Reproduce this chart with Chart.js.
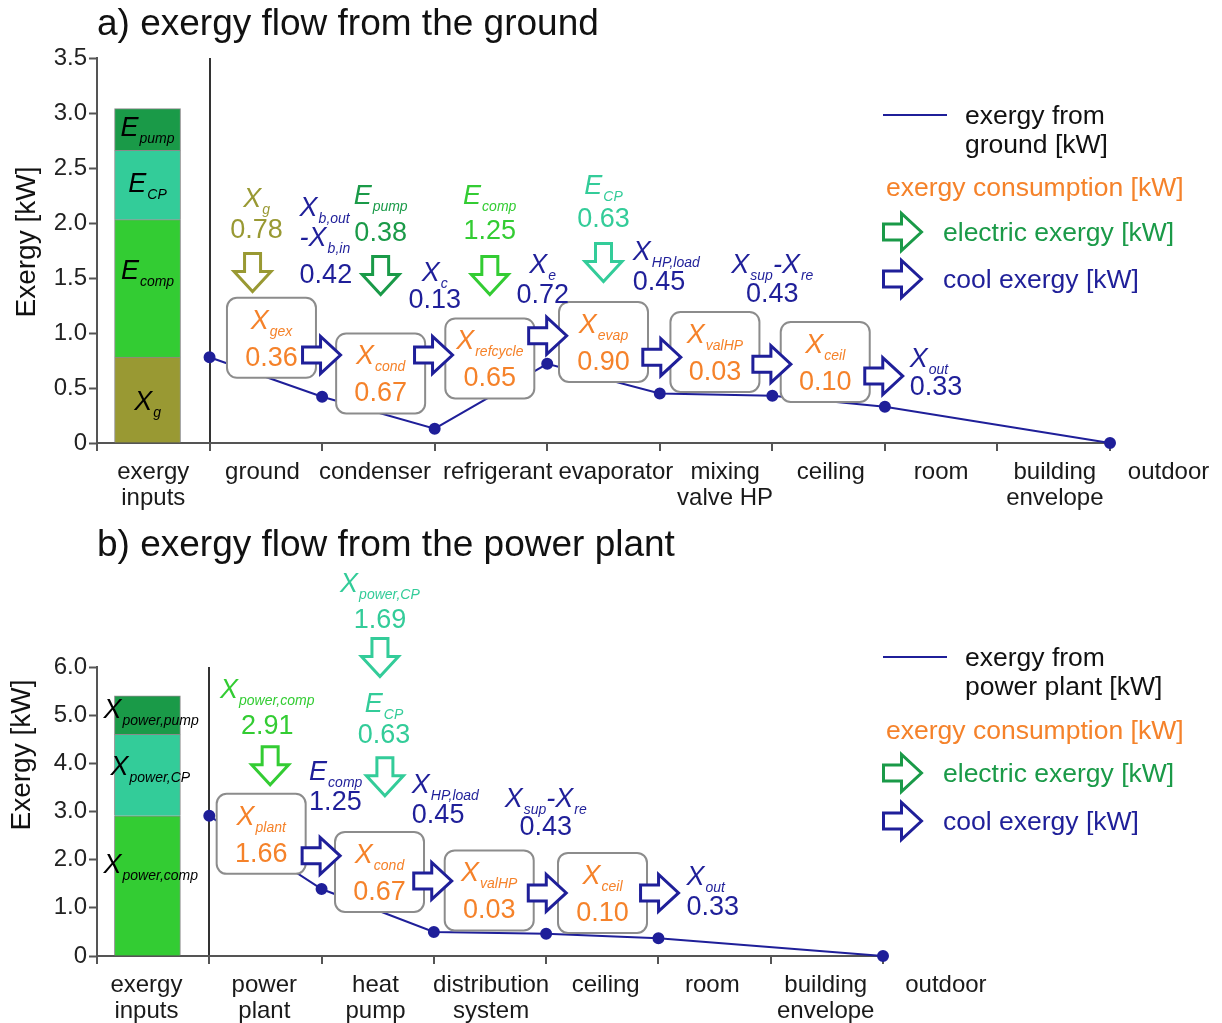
<!DOCTYPE html>
<html>
<head>
<meta charset="utf-8">
<script src="https://cdn.jsdelivr.net/npm/chart.js@4.4.0/dist/chart.umd.min.js"></script>
<style>
  body { margin: 0; background: #fff; }
  #wrap { position: relative; width: 1222px; height: 1023px; }
  canvas { position: absolute; left: 0; }
  #chartA { top: 0; }
  #chartB { top: 520px; }
</style>
</head>
<body>
<div id="wrap">
  <canvas id="chartA" width="1222" height="520"></canvas>
  <canvas id="chartB" width="1222" height="503"></canvas>
</div>
<script>
// ---------- panel a data ----------
const stagesA = [['exergy', 'inputs'], ['ground'], ['condenser'], ['refrigerant'], ['evaporator'],
  ['mixing', 'valve HP'], ['ceiling'], ['room'], ['building', 'envelope'], ['outdoor']];
const flowA = [0.78, 0.42, 0.13, 0.72, 0.45, 0.43, 0.33, null, 0]; // at stage boundaries 1..9
const inputNamesA = ['X_g', 'E_comp', 'E_CP', 'E_pump'];
const inputValuesA = [0.78, 1.25, 0.63, 0.38];
const consNamesA = ['gex', 'cond', 'refcycle', 'evap', 'valHP', 'ceil'];
const consValuesA = [0.36, 0.67, 0.65, 0.90, 0.03, 0.10];
const electricNamesA = ['X_g', 'E_pump', 'E_comp', 'E_CP'];
const electricValuesA = [0.78, 0.38, 1.25, 0.63];
const coolNamesA = [['X_b,out', '-X_b,in'], 'X_c', 'X_e', 'X_HP,load', 'X_sup-X_re', 'X_out'];
const coolValuesA = [0.42, 0.13, 0.72, 0.45, 0.43, 0.33];

// ---------- panel b data ----------
const stagesB = [['exergy', 'inputs'], ['power', 'plant'], ['heat', 'pump'], ['distribution', 'system'],
  ['ceiling'], ['room'], ['building', 'envelope'], ['outdoor']];
const flowB = [2.91, 1.39, 0.50, 0.46, 0.37, null, 0];
const inputNamesB = ['X_power,comp', 'X_power,CP', 'X_power,pump'];
const inputValuesB = [2.91, 1.69, 0.80];
const consNamesB = ['plant', 'cond', 'valHP', 'ceil'];
const consValuesB = [1.66, 0.67, 0.03, 0.10];
const electricNamesB = ['X_power,CP', 'E_CP', 'X_power,comp'];
const electricValuesB = [1.69, 0.63, 2.91];
const coolNamesB = ['E_comp', 'X_HP,load', 'X_sup-X_re', 'X_out'];
const coolValuesB = [1.25, 0.45, 0.43, 0.33];

// ---------- styles ----------
const FONT = "'Liberation Sans', Arial, sans-serif";
const NAVY = '#1f1f99';
const ORANGE = '#f5822a';
const OLIVE = '#999933';
const DKGREEN = '#1a9a48';
const GREEN = '#33cc33';
const TEAL = '#33cc99';
const INK = '#1a1a1a';

// layout (annotation positions in data units of each panel)
const layoutA = {
  title: 'a) exergy flow from the ground', titleY: 35, yTitleX: 27, yTitleY: 242,
  yMax: 3.5, yStep: 0.5, padTop: 58, padRight: 112, xHeight: 77,
  stageX: [0.5, 1.47, 2.47, 3.56, 4.61, 5.58, 6.52, 7.5, 8.51, 9.52],
  barX: 0.449, barColors: [OLIVE, GREEN, TEAL, DKGREEN],
  barLabels: { x: [0.449, 0.449, 0.449, 0.449], y: [0.299, 1.495, 2.280, 2.792], align: 'center' },
  boxX: [1.55, 2.52, 3.49, 4.5, 5.49, 6.47], boxY: [0.956, 0.632, 0.769, 0.919, 0.828, 0.737],
  flowArrowX: [1.995, 2.99, 4.004, 5.018, 5.996, 6.99], flowArrowY: [0.80, 0.80, 0.975, 0.78, 0.717, 0.608],
  electric: [
    { color: OLIVE, x: 1.418, y: [2.142, 1.860], ax: 1.382, ay: 1.549 },
    { color: DKGREEN, x: 2.52, y: [2.171, 1.836], ax: 2.52, ay: 1.522 },
    { color: GREEN, x: 3.489, y: [2.171, 1.851], ax: 3.49, ay: 1.522 },
    { color: TEAL, x: 4.50, y: [2.262, 1.961], ax: 4.50, ay: 1.641 }
  ],
  cool: [
    { align: 'left', x: 1.80, y: [2.064, 1.790, 1.458] },
    { align: 'center', x: 3.0, y: [1.470, 1.230] },
    { align: 'center', x: 3.96, y: [1.550, 1.276] },
    { align: 'left', x: 4.76, y: [1.668, 1.395] },
    { align: 'center', x: 6.0, y: [1.550, 1.285] },
    { align: 'left', x: 7.22, y: [0.691, 0.436] }
  ],
  legend: { source: ['exergy from', 'ground [kW]'], lineY: 115, srcY: [124, 153], consY: 196, elecY: 232, coolY: 279 }
};

const layoutB = {
  title: 'b) exergy flow from the power plant', titleY: 36, yTitleX: 22, yTitleY: 235,
  yMax: 6, yStep: 1, padTop: 147, padRight: 339, xHeight: 67,
  stageX: [0.44, 1.49, 2.48, 3.51, 4.53, 5.48, 6.49, 7.56],
  barX: 0.449, barColors: [GREEN, TEAL, DKGREEN],
  barLabels: { x: [0.058, 0.12, 0.058], y: [1.726, 3.763, 4.948], align: 'left' },
  boxX: [1.462, 2.516, 3.493, 4.502], boxY: [2.536, 1.746, 1.362, 1.310],
  flowArrowX: [1.996, 2.99, 4.01, 5.01], flowArrowY: [2.079, 1.559, 1.310, 1.310],
  electric: [
    { color: TEAL, x: 2.52, y: [7.547, 6.819], ax: 2.52, ay: 6.195 },
    { color: TEAL, x: 2.556, y: [5.073, 4.428], ax: 2.564, ay: 3.721 },
    { color: GREEN, x: 1.516, y: [5.364, 4.615], ax: 1.542, ay: 3.950 }
  ],
  cool: [
    { align: 'left', x: 1.889, y: [3.659, 3.035] },
    { align: 'left', x: 2.804, y: [3.389, 2.765] },
    { align: 'center', x: 3.996, y: [3.098, 2.516] },
    { align: 'left', x: 5.249, y: [1.476, 0.852] }
  ],
  legend: { source: ['exergy from', 'power plant [kW]'], lineY: 137, srcY: [146, 175], consY: 219, elecY: 253, coolY: 301 }
};

// ---------- drawing helpers ----------
function parseName(str) {
  const segs = [];
  const re = /(-?[A-Z])(?:_([^-]+))?/g;
  let m;
  while ((m = re.exec(str)) !== null) segs.push({ main: m[1], sub: m[2] || '' });
  return segs;
}

function drawName(ctx, str, x, y, align, color, mainSize = 27, subSize = 14) {
  const segs = parseName(str);
  const mainFont = `italic ${mainSize}px ${FONT}`;
  const subFont = `italic ${subSize}px ${FONT}`;
  let total = 0;
  segs.forEach(s => {
    ctx.font = mainFont; s.w1 = ctx.measureText(s.main).width + 1;
    ctx.font = subFont; s.w2 = ctx.measureText(s.sub).width;
    total += s.w1 + s.w2;
  });
  let cx = align === 'center' ? x - total / 2 : x;
  ctx.fillStyle = color;
  ctx.textAlign = 'left';
  ctx.textBaseline = 'alphabetic';
  segs.forEach(s => {
    ctx.font = mainFont; ctx.fillText(s.main, cx, y); cx += s.w1;
    ctx.font = subFont; ctx.fillText(s.sub, cx, y + 7); cx += s.w2;
  });
}

function drawText(ctx, txt, x, y, align, color, size) {
  ctx.font = `${size}px ${FONT}`;
  ctx.fillStyle = color;
  ctx.textAlign = align;
  ctx.textBaseline = 'alphabetic';
  ctx.fillText(txt, x, y);
}

function hollowArrow(ctx, cx, cy, dir, color) {
  const pts = [[-19, -8], [-1, -8], [-1, -18.5], [19, 0], [-1, 18.5], [-1, 8], [-19, 8]];
  ctx.save();
  ctx.translate(cx, cy);
  if (dir === 'down') ctx.rotate(Math.PI / 2);
  ctx.beginPath();
  pts.forEach(([a, b], i) => i ? ctx.lineTo(a, b) : ctx.moveTo(a, b));
  ctx.closePath();
  ctx.fillStyle = '#fff';
  ctx.fill();
  ctx.lineWidth = 3;
  ctx.lineJoin = 'miter';
  ctx.strokeStyle = color;
  ctx.stroke();
  ctx.restore();
}

function roundBox(ctx, x, y, w, h, r) {
  ctx.beginPath();
  ctx.roundRect(x, y, w, h, r);
  ctx.fillStyle = '#fff';
  ctx.fill();
  ctx.lineWidth = 2;
  ctx.strokeStyle = '#8c8c8c';
  ctx.stroke();
}

function notesPlugin(d, L) {
  return {
    id: 'exergyNotes',
    afterDatasetsDraw(chart) {
      const ctx = chart.ctx;
      const px = v => chart.scales.x.getPixelForValue(v);
      const py = v => chart.scales.y.getPixelForValue(v);
      ctx.save();

      // stacked bar labels
      d.inputNames.forEach((n, i) => {
        drawName(ctx, n, px(L.barLabels.x[i]), py(L.barLabels.y[i]), L.barLabels.align, '#000');
      });

      // exergy consumption boxes
      d.consNames.forEach((n, i) => {
        const cx = px(L.boxX[i]), cy = py(L.boxY[i]);
        roundBox(ctx, cx - 44.5, cy - 40, 89, 80, 10);
        drawName(ctx, 'X_' + n, cx, cy - 9, 'center', ORANGE);
        drawText(ctx, d.consValues[i].toFixed(2), cx, cy + 28, 'center', ORANGE, 27);
      });

      // cool exergy arrows between components
      L.flowArrowX.forEach((x, i) => hollowArrow(ctx, px(x), py(L.flowArrowY[i]), 'right', NAVY));

      // electric exergy inputs
      d.electricNames.forEach((n, i) => {
        const e = L.electric[i];
        drawName(ctx, n, px(e.x), py(e.y[0]), 'center', e.color);
        drawText(ctx, d.electricValues[i].toFixed(2), px(e.x), py(e.y[1]), 'center', e.color, 27);
        hollowArrow(ctx, px(e.ax), py(e.ay), 'down', e.color);
      });

      // cool exergy values
      d.coolNames.forEach((n, i) => {
        const c = L.cool[i];
        const lines = Array.isArray(n) ? n : [n];
        lines.forEach((ln, k) => drawName(ctx, ln, px(c.x), py(c.y[k]), c.align, NAVY));
        drawText(ctx, d.coolValues[i].toFixed(2), px(c.x), py(c.y[lines.length]), c.align, NAVY, 27);
      });
      ctx.restore();
    },
    afterDraw(chart) {
      const ctx = chart.ctx;
      const px = v => chart.scales.x.getPixelForValue(v);
      const base = chart.chartArea.bottom;
      ctx.save();

      // stage labels between ticks
      d.stages.forEach((lines, i) => {
        lines.forEach((t, k) => drawText(ctx, t, px(L.stageX[i]), base + 36 + k * 26, 'center', INK, 24));
      });

      // titles
      drawText(ctx, L.title, 97, L.titleY, 'left', '#111', 37);
      ctx.save();
      ctx.translate(L.yTitleX, L.yTitleY);
      ctx.rotate(-Math.PI / 2);
      ctx.font = `28px ${FONT}`;
      ctx.fillStyle = '#111';
      ctx.textAlign = 'center';
      ctx.textBaseline = 'middle';
      ctx.fillText('Exergy [kW]', 0, 0);
      ctx.restore();

      // legend
      const lg = L.legend;
      ctx.beginPath();
      ctx.moveTo(883, lg.lineY);
      ctx.lineTo(947, lg.lineY);
      ctx.lineWidth = 2;
      ctx.strokeStyle = NAVY;
      ctx.stroke();
      lg.source.forEach((t, k) => drawText(ctx, t, 965, lg.srcY[k], 'left', '#111', 26.5));
      drawText(ctx, 'exergy consumption [kW]', 886, lg.consY, 'left', ORANGE, 26.5);
      hollowArrow(ctx, 902.5, lg.elecY, 'right', DKGREEN);
      drawText(ctx, 'electric exergy [kW]', 943, lg.elecY + 9, 'left', DKGREEN, 26.5);
      hollowArrow(ctx, 902.5, lg.coolY, 'right', NAVY);
      drawText(ctx, 'cool exergy [kW]', 943, lg.coolY + 9, 'left', NAVY, 26.5);
      ctx.restore();
    }
  };
}

function buildChart(canvasId, d, L) {
  const bars = d.inputValues.map((v, i) => ({
    type: 'bar',
    label: d.inputNames[i],
    data: [{ x: L.barX, y: v }],
    backgroundColor: L.barColors[i],
    borderColor: '#8a8a8a',
    borderWidth: 1,
    barThickness: 66,
    order: 2
  }));
  const flow = {
    type: 'line',
    label: 'exergy from source [kW]',
    data: d.flow.map((v, i) => ({ x: i + 1, y: v })).filter(p => p.y !== null),
    borderColor: NAVY,
    backgroundColor: NAVY,
    borderWidth: 2,
    pointRadius: 5,
    pointHoverRadius: 5,
    clip: false,
    stack: 'flow',
    order: 1
  };

  return new Chart(document.getElementById(canvasId).getContext('2d'), {
    type: 'bar',
    data: { datasets: [...bars, flow] },
    options: {
      responsive: false,
      animation: false,
      layout: { padding: { left: 0, top: L.padTop, right: L.padRight, bottom: 0 } },
      plugins: { legend: { display: false }, tooltip: { enabled: false } },
      scales: {
        x: {
          type: 'linear', min: 0, max: d.stages.length - 1, offset: false, stacked: true,
          afterFit: s => { s.height = L.xHeight; },
          border: { color: '#555', width: 2 },
          grid: {
            offset: false, drawOnChartArea: true, drawTicks: true,
            tickLength: 8, tickColor: '#555', tickWidth: 2, lineWidth: 2,
            color: c => (c.tick && c.tick.value === 1) ? '#333' : 'rgba(0,0,0,0)'
          },
          ticks: { stepSize: 1, autoSkip: false, maxRotation: 0, callback: () => '' }
        },
        y: {
          min: 0, max: L.yMax, stacked: true,
          afterFit: s => { s.width = 97; },
          border: { color: '#555', width: 2 },
          grid: { drawOnChartArea: false, tickLength: 8, tickColor: '#555', tickWidth: 2 },
          ticks: {
            stepSize: L.yStep, padding: 2, color: '#222',
            font: { family: FONT, size: 24 },
            callback: v => v === 0 ? '0' : v.toFixed(1)
          }
        }
      }
    },
    plugins: [notesPlugin(d, L)]
  });
}

const panelA = {
  stages: stagesA, flow: flowA, inputNames: inputNamesA, inputValues: inputValuesA,
  consNames: consNamesA, consValues: consValuesA,
  electricNames: electricNamesA, electricValues: electricValuesA,
  coolNames: coolNamesA, coolValues: coolValuesA
};
const panelB = {
  stages: stagesB, flow: flowB, inputNames: inputNamesB, inputValues: inputValuesB,
  consNames: consNamesB, consValues: consValuesB,
  electricNames: electricNamesB, electricValues: electricValuesB,
  coolNames: coolNamesB, coolValues: coolValuesB
};

buildChart('chartA', panelA, layoutA);
buildChart('chartB', panelB, layoutB);
</script>
</body>
</html>
